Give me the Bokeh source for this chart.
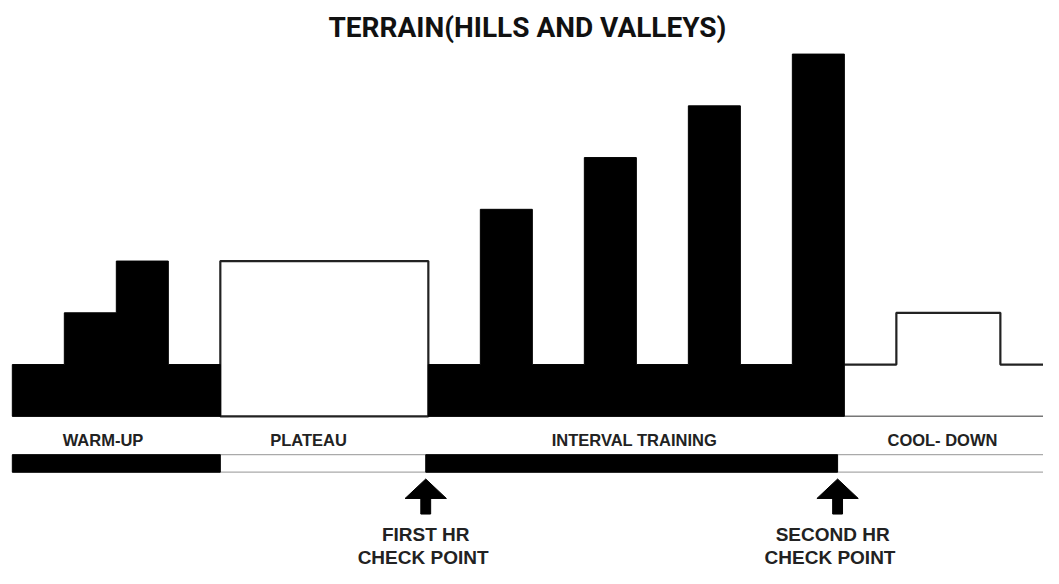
import numpy as np
from bokeh.plotting import figure
from bokeh.models import Range1d
from bokeh.core.properties import value
from bokeh.embed import file_html
from bokeh.resources import INLINE

# ---------------- data ----------------
title_text = "TERRAIN(HILLS AND VALLEYS)"
phase_names = ["WARM-UP", "PLATEAU", "INTERVAL TRAINING", "COOL- DOWN"]
warmup_heights = [1, 2, 3, 1]
plateau_heights = [3, 3, 3, 3]
interval_heights = [1, 4, 1, 5, 1, 6, 1, 7]
cooldown_heights = [1, 2, 2, 1]
phase_heights = [warmup_heights, plateau_heights, interval_heights, cooldown_heights]
phase_filled = [True, False, True, False]
checkpoint_pos = [7.95, 15.87]
checkpoint_line1 = ["FIRST HR", "SECOND HR"]
checkpoint_line2 = ["CHECK  POINT", "CHECK  POINT"]

# ---------------- layout ----------------
W, H = 1043, 568
SX, SY = W / 1059.0, H / 584.0          # reference px -> figure px
UX, UY = 52.8 * SX, 53.2 * SY          # px per unit
X0, Y0 = 12.0 * SX, 427.5 * SY         # figure px of x=0 / baseline


def ry(yref):
    """y data value for a reference-pixel row"""
    return (Y0 - yref * SY) / UY


def dx(pxref):
    return pxref / 52.8


def dy(pxref):
    return pxref / 53.2


p = figure(width=W, height=H, output_backend="svg", toolbar_location=None,
           x_range=Range1d(-X0 / UX, (W - X0) / UX),
           y_range=Range1d((Y0 - H) / UY, Y0 / UY),
           x_axis_type=None, y_axis_type=None, min_border=0,
           background_fill_color="white", border_fill_color="white")
p.outline_line_color = None
p.xgrid.visible = False
p.ygrid.visible = False

lengths = [len(h) for h in phase_heights]
starts = np.concatenate([[0], np.cumsum(lengths)[:-1]]).astype(float)
ends = starts + np.array(lengths)
total = float(ends[-1])

# baseline
p.segment(x0=[0], y0=[0], x1=[total], y1=[0], line_color="#777777", line_width=1.5)


def step_poly(s, hs):
    xs, ys = [s], [0]
    for i, h in enumerate(hs):
        xs += [s + i, s + i + 1]
        ys += [h, h]
    xs.append(s + len(hs))
    ys.append(0)
    return xs, ys


# outlined (unfilled) phases
for k, (s, hs, filled) in enumerate(zip(starts, phase_heights, phase_filled)):
    if filled:
        continue
    xs, ys = step_poly(s, hs)
    if k < len(starts) - 1:
        p.patch(xs, ys, fill_color="white", line_color="#222222", line_width=2.2)
    else:
        p.line(xs[1:-1], ys[1:-1], line_color="#222222", line_width=2.2)

# filled phases
for s, hs, filled in zip(starts, phase_heights, phase_filled):
    if not filled:
        continue
    xs, ys = step_poly(s, hs)
    p.patch(xs, ys, fill_color="black", line_color="black", line_width=1)

# phase labels
centers = (starts + ends) / 2.0
lab_off = [v * SX for v in [-13.5, -16, -2, -6]]
p.text(x=list(centers), y=[ry(452)] * 4, text=phase_names, x_offset=lab_off,
       text_font=value("Liberation Sans"), text_font_style="bold",
       text_font_size="16.5px", text_color="#222222",
       text_align="center", text_baseline="middle")

# bottom phase bar
bar_top, bar_bot = ry(467), ry(485)
p.segment(x0=[0, 0], y0=[bar_top, bar_bot], x1=[total, total], y1=[bar_top, bar_bot],
          line_color="#aaaaaa", line_width=1.3)
bar_left = [starts[0], starts[1], checkpoint_pos[0], checkpoint_pos[1]]
bar_right = [starts[1], checkpoint_pos[0], checkpoint_pos[1], total]
fl = [i for i, f in enumerate(phase_filled) if f]
p.quad(left=[bar_left[i] for i in fl], right=[bar_right[i] for i in fl],
       top=bar_top, bottom=bar_bot, fill_color="black", line_color="black")

# checkpoint arrows
tip, head_base, shaft_bot = ry(492), ry(512), ry(528)
hw, sw = dx(21), dx(5)
p.patches(xs=[[c - hw, c, c + hw] for c in checkpoint_pos],
          ys=[[head_base, tip, head_base] for c in checkpoint_pos],
          fill_color="black", line_color="black")
p.quad(left=[c - sw for c in checkpoint_pos], right=[c + sw for c in checkpoint_pos],
       top=head_base + dy(1), bottom=shaft_bot, fill_color="black", line_color="black")

# checkpoint labels
cp_off = [v * SX for v in [0, -5]]
for line, yref in ((checkpoint_line1, 549.5), (checkpoint_line2, 572.5)):
    p.text(x=checkpoint_pos, y=[ry(yref)] * 2, text=line, x_offset=cp_off,
           text_font=value("Liberation Sans"), text_font_style="bold",
           text_font_size="19px", text_color="#222222",
           text_align="center", text_baseline="middle")

# title
p.text(x=[(535 * SX - X0) / UX], y=[ry(28)], text=[title_text],
       text_font=value("Roboto"), text_font_style="bold",
       text_font_size="28px", text_color="#111111",
       text_align="center", text_baseline="middle")

open("out.html", "w").write(file_html(p, INLINE))
